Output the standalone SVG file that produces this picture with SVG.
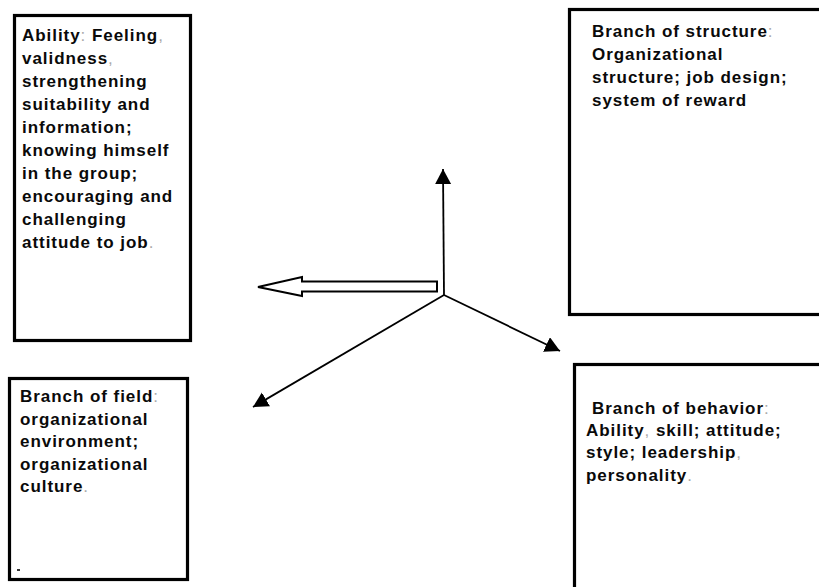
<svg xmlns="http://www.w3.org/2000/svg" width="819" height="587" viewBox="0 0 819 587">
<style>
.box{fill:#fff;stroke:#000;stroke-width:3.2}
.t{font-family:"Liberation Sans",Arial,sans-serif;font-weight:bold;font-size:17px;letter-spacing:0.95px;fill:#0a0a0a}
.p{fill:#aaa;font-weight:normal}
.ax{stroke:#000;stroke-width:1.8;fill:none}
.hollow{fill:#fff;stroke:#000;stroke-width:2;stroke-linejoin:miter}
.mark{fill:#333}
</style>
<defs>
<marker id="ah" markerUnits="userSpaceOnUse" markerWidth="17" markerHeight="17" refX="15" refY="8" orient="auto">
<path d="M0,0 L15,8 L0,16 z" fill="#000"/>
</marker>
</defs>
<rect width="819" height="587" fill="#fff"/>
<g id="node-ability">
<rect class="box" x="14.5" y="15.5" width="176" height="325"/>
<text class="t" x="22" y="41">Ability<tspan class="p">:</tspan> Feeling<tspan class="p">,</tspan></text>
<text class="t" x="22" y="64">validness<tspan class="p">,</tspan></text>
<text class="t" x="22" y="87">strengthening</text>
<text class="t" x="22" y="110">suitability and</text>
<text class="t" x="22" y="133">information;</text>
<text class="t" x="22" y="156">knowing himself</text>
<text class="t" x="22" y="179">in the group;</text>
<text class="t" x="22" y="202">encouraging and</text>
<text class="t" x="22" y="225">challenging</text>
<text class="t" x="22" y="248">attitude to job<tspan class="p">.</tspan></text>
</g>
<g id="node-structure">
<rect class="box" x="569.5" y="9.5" width="262" height="305"/>
<text class="t" x="592" y="37">Branch of structure<tspan class="p">:</tspan></text>
<text class="t" x="592" y="60">Organizational</text>
<text class="t" x="592" y="83">structure; job design;</text>
<text class="t" x="592" y="106">system of reward</text>
</g>
<g id="node-field">
<rect class="box" x="9.5" y="378.5" width="178" height="201"/>
<text class="t" x="20" y="402">Branch of field<tspan class="p">:</tspan></text>
<text class="t" x="20" y="425">organizational</text>
<text class="t" x="20" y="447">environment;</text>
<text class="t" x="20" y="470">organizational</text>
<text class="t" x="20" y="492">culture<tspan class="p">.</tspan></text>
<rect class="mark" x="17" y="569" width="3" height="2"/>
</g>
<g id="node-behavior">
<rect class="box" x="574.5" y="364.5" width="262" height="240"/>
<text class="t" x="592" y="414">Branch of behavior<tspan class="p">:</tspan></text>
<text class="t" x="586" y="436">Ability<tspan class="p">,</tspan> skill; attitude;</text>
<text class="t" x="586" y="458">style; leadership<tspan class="p">,</tspan></text>
<text class="t" x="586" y="481">personality<tspan class="p">.</tspan></text>
</g>
<g id="connectors">
<line class="ax" x1="444" y1="295" x2="443" y2="169" marker-end="url(#ah)"/>
<line class="ax" x1="444" y1="295" x2="560" y2="351" marker-end="url(#ah)"/>
<line class="ax" x1="444" y1="295" x2="253" y2="407" marker-end="url(#ah)"/>
<polygon class="hollow" points="437,281.5 302,281.5 302,277 258,287 302,296 302,291.5 437,291.5"/>
</g>
</svg>
